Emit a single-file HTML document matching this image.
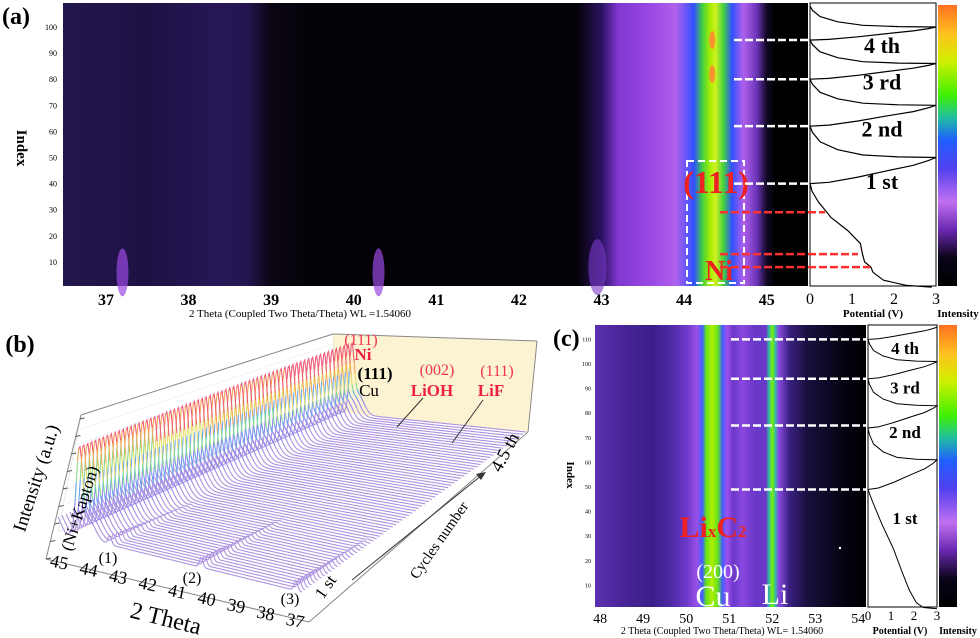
<!DOCTYPE html>
<html><head><meta charset="utf-8">
<style>
html,body{margin:0;padding:0;background:#fff}
svg{display:block;font-family:"Liberation Serif",serif}
</style></head>
<body>
<svg id="fig" width="980" height="638" viewBox="0 0 980 638" xmlns="http://www.w3.org/2000/svg">
<defs>
<linearGradient id="cbar" x1="0" y1="1" x2="0" y2="0">
<stop offset="0" stop-color="#000"/><stop offset="0.1" stop-color="#0a0418"/><stop offset="0.2" stop-color="#6a28b0"/><stop offset="0.3" stop-color="#c070f0"/><stop offset="0.42" stop-color="#5040f0"/><stop offset="0.52" stop-color="#2060ff"/><stop offset="0.6" stop-color="#20c0a0"/><stop offset="0.68" stop-color="#40f000"/><stop offset="0.8" stop-color="#d0f000"/><stop offset="0.9" stop-color="#ffc020"/><stop offset="1" stop-color="#ff7020"/>
</linearGradient>
</defs>
<g id="panelA"></g>
<g id="panelB"></g>
<g id="panelC"></g>
</svg>
<script>
// ---------- data ----------
const aTicks = [37,38,39,40,41,42,43,44,45];
const aIdxTicks = [10,20,30,40,50,60,70,80,90,100];
const aBandTheta = [36.5,37.5,38.3,38.7,39.0,39.5,42.7,43.0,43.2,43.6,43.9,44.12,44.22,44.32,44.38,44.48,44.58,44.72,44.88,45.0,45.1];
const aBandColor = ["#22164e","#1e1244","#261656","#241552","#0b0614","#040206","#040206","#2a1260","#8038d0","#9a48e4","#b060ec","#3050ff","#40d040","#a8f000","#d0f020","#40d040","#3050ff","#b060ec","#6a34b8","#120826","#000000"];
const aSpotTheta = [37.2,40.3];
const aPotTicks = [0,1,2,3];
const aCycIdx = [40,50,62,70,80,86,95,100,108];
const aCycV = [0,3,0,3,0,3,0,3,0];
const a1stIdx = [0.3,1,3,6,8,10,13,17,22,27,33,37,40];
const a1stV = [2.9,2.3,1.75,1.5,1.45,1.3,1.25,1.2,0.9,0.5,0.2,0.05,0];
const aWhiteIdx = [95,80,62,40];
const aRedIdx = [29,13,8];
const aCycLabels = ["4 th","3 rd","2 nd","1 st"];
const aCycLabelIdx = [90,76,58,38];

const cTicks = [48,49,50,51,52,53,54];
const cIdxTicks = [10,20,30,40,50,60,70,80,90,100,110];
const cBandTheta = [47.85,48.5,49.2,49.6,50.0,50.25,50.38,50.46,50.6,50.74,50.84,50.95,51.1,51.3,51.6,51.85,51.93,52.0,52.07,52.15,52.4,52.8,53.5,54.15];
const cBandColor = ["#5a30b0","#4a2598","#3a1e88","#4a28a0","#6a38c8","#9a50e8","#4060ff","#60e020","#b0f000","#60e020","#4060ff","#a050f0","#6a38c8","#8a48e0","#6a38c8","#6a38c8","#30c0a0","#80f000","#30c0a0","#8a48e0","#3a2080","#1a1040","#080418","#000000"];
const cCycIdx = [49,61,74,83,94,101,110,115];
const cCycV = [0,3,0,3,0,3,0,3];
const c1stIdx = [1,3,8,15,25,35,44,49];
const c1stV = [2.4,2.1,1.8,1.5,1.1,0.6,0.2,0];
const cWhiteIdx = [110,94,75,49];
const cCycLabels = ["4 th","3 rd","2 nd","1 st"];
const cCycLabelIdx = [104,88,70,35];

const bThetaTicks = [45,44,43,42,41,40,39,38,37];
const bCycles = 70;
const bNiPeak = 44.3;
const bMinorPeaks = [43.3,40.3,37.2];
const bMinorHeights = [9,10,10];

const disV = [1,0.7,0.42,0.22,0.08,0.02,0];
const disF = [0,0.02,0.08,0.25,0.5,0.8,1];
const chgV = [0,0.15,0.38,0.62,0.82,0.94,1];
const chgF = [0,0.05,0.25,0.5,0.7,0.88,1];

// ---------- helpers ----------
const NS="http://www.w3.org/2000/svg";
function mk(tag, attrs, parent, text){
  const e=document.createElementNS(NS,tag);
  for(const k in attrs) e.setAttribute(k,attrs[k]);
  if(text!==undefined) e.textContent=text;
  parent.appendChild(e); return e;
}
const defs=document.querySelector('defs');

function heatmap(g, id, x0,x1,y0,y1, tMin,tMax, thetas, colors){
  const sx=t=>x0+(t-tMin)/(tMax-tMin)*(x1-x0);
  const lg=mk('linearGradient',{id:id,gradientUnits:'userSpaceOnUse',x1:x0,y1:0,x2:x1,y2:0},defs);
  thetas.forEach((t,i)=>{const o=Math.max(0,Math.min(1,(sx(t)-x0)/(x1-x0)));mk('stop',{offset:o,'stop-color':colors[i]},lg);});
  const r=mk('rect',{x:x0,y:y0,width:x1-x0,height:y1-y0,fill:'url(#'+id+')'},g);
  
  
  return sx;
}
function potPath(pv, pi, sx, sy){
  let d='';
  pi.forEach((ix,k)=>{d+=(k?'L':'M')+sx(pv[k]).toFixed(1)+' '+sy(ix).toFixed(1);});
  return d;
}
function cycPath(idx, v, sx, sy){
  let d='M'+sx(v[0]).toFixed(1)+' '+sy(idx[0]).toFixed(1);
  for(let k=1;k<idx.length;k++){
    const i1=idx[k-1],i2=idx[k],v1=v[k-1],v2=v[k];
    const down=v2<v1;
    const VV=down?disV:chgV, FF=down?disF:chgF;
    for(let j=1;j<VV.length;j++){
      const vv=down? v2+(v1-v2)*VV[j] : v1+(v2-v1)*VV[j];
      const ii=i1+(i2-i1)*FF[j];
      d+=' L'+sx(vv).toFixed(1)+' '+sy(ii).toFixed(1);
    }
  }
  return d;
}

// ---------- panel A ----------
(function(){
  const g=document.getElementById('panelA');
  const X0=63,X1=808,Y0=3,Y1=286, T0=36.48, T1=45.5;
  const sx=heatmap(g,'gA',X0,X1,Y0,Y1,T0,T1,aBandTheta,aBandColor);
  const sy=i=>288-2.61*i;
  aSpotTheta.forEach(t=>{
    const e=mk('ellipse',{cx:sx(t),cy:sy(6),rx:6,ry:24,fill:'#9a48e0',opacity:0.7},g);
    
    
  });
  mk('ellipse',{cx:sx(42.95),cy:sy(8),rx:9,ry:28,fill:'#7a38c8',opacity:0.6},g);
  [95,82].forEach(i=>{const e=mk('ellipse',{cx:sx(44.34),cy:sy(i),rx:3,ry:9,fill:'#ff8a30',opacity:0.9},g);
    });
  aTicks.forEach(t=>{
    const e=mk('text',{x:sx(t),y:305,'font-size':16,'text-anchor':'middle','font-weight':'bold'},g,String(t));
    
  });
  aIdxTicks.forEach(i=>{
    const e=mk('text',{x:57,y:sy(i)+3,'font-size':8,'text-anchor':'end'},g,String(i));
    
  });
  let t=mk('text',{x:0,y:0,'font-size':15,'font-weight':'bold',transform:'translate(17,148) rotate(90)','text-anchor':'middle'},g,'Index');
  
  t=mk('text',{x:300,y:317,'font-size':11,'text-anchor':'middle'},g,'2 Theta (Coupled Two Theta/Theta) WL =1.54060');
  
  t=mk('text',{x:2,y:24,'font-size':24,'font-weight':'bold'},g,'(a)');
  
  let r=mk('rect',{x:687,y:161,width:57,height:122,fill:'none',stroke:'#fff','stroke-width':2,'stroke-dasharray':'7 4'},g);
  
  t=mk('text',{x:716,y:193,'font-size':32,'font-weight':'bold',fill:'#ee2222','text-anchor':'middle'},g,'(111)');
  
  t=mk('text',{x:719,y:280,'font-size':28,'font-weight':'bold',fill:'#ee2222','text-anchor':'middle'},g,'Ni');
  
  const PX0=810,PX1=936;
  const px=v=>PX0+v/3*(PX1-PX0);
  r=mk('rect',{x:PX0,y:Y0,width:PX1-PX0,height:Y1-Y0,fill:'#fff',stroke:'#000','stroke-width':1},g);
  
  let p=mk('path',{d:potPath(a1stV,a1stIdx,px,sy),fill:'none',stroke:'#000','stroke-width':1.2},g);
  
  p=mk('path',{d:cycPath(aCycIdx,aCycV,px,sy),fill:'none',stroke:'#000','stroke-width':1.2},g);
  
  aCycLabels.forEach((s,k)=>{const e=mk('text',{x:882,y:sy(aCycLabelIdx[k]),'font-size':22,'font-weight':'bold','text-anchor':'middle'},g,s);
    });
  aWhiteIdx.forEach(i=>{const e=mk('line',{x1:734,y1:sy(i),x2:808,y2:sy(i),stroke:'#fff','stroke-width':2.5,'stroke-dasharray':'8 3'},g);
    });
  const redEnd=[825,858,870];
  aRedIdx.forEach((i,k)=>{const e=mk('line',{x1:720,y1:sy(i),x2:redEnd[k],y2:sy(i),stroke:'#ff3030','stroke-width':2.5,'stroke-dasharray':'8 3'},g);
    });
  aPotTicks.forEach(v=>{const e=mk('text',{x:px(v),y:304,'font-size':16,'text-anchor':'middle'},g,String(v));
    });
  t=mk('text',{x:873,y:317,'font-size':11,'font-weight':'bold','text-anchor':'middle'},g,'Potential (V)');
  
  r=mk('rect',{x:938,y:Y0+2,width:19,height:Y1-Y0-2,fill:'url(#cbar)'},g);
  
  t=mk('text',{x:958,y:317,'font-size':11,'font-weight':'bold','text-anchor':'middle'},g,'Intensity');
  
})();

// ---------- panel C ----------
(function(){
  const g=document.getElementById('panelC');
  const X0=595,X1=866,Y0=325,Y1=607,T0=47.88,T1=54.18;
  const sx=heatmap(g,'gC',X0,X1,Y0,Y1,T0,T1,cBandTheta,cBandColor);
  const sy=i=>610-2.46*i;
  cTicks.forEach(t=>{const e=mk('text',{x:sx(t),y:623,'font-size':14,'text-anchor':'middle'},g,String(t));
    });
  cIdxTicks.forEach(i=>{const e=mk('text',{x:591,y:sy(i)+2,'font-size':6,'text-anchor':'end'},g,String(i));
    });
  let t=mk('text',{x:0,y:0,'font-size':11,'font-weight':'bold',transform:'translate(567,475) rotate(90)','text-anchor':'middle'},g,'Index');
  
  t=mk('text',{x:722,y:634,'font-size':10,'text-anchor':'middle'},g,'2 Theta (Coupled Two Theta/Theta) WL= 1.54060');
  
  t=mk('text',{x:553,y:346,'font-size':24,'font-weight':'bold'},g,'(c)');
  
  t=mk('text',{x:713,y:537,'font-size':30,'font-weight':'bold',fill:'#ee2222','text-anchor':'middle'},g);
  
  mk('tspan',{},t,'Li');mk('tspan',{'font-size':17},t,'x');mk('tspan',{},t,'C');mk('tspan',{'font-size':17},t,'2');
  t=mk('text',{x:718,y:578,'font-size':20,fill:'#fff','text-anchor':'middle'},g,'(200)');
  
  t=mk('text',{x:713,y:606,'font-size':30,fill:'#fff','text-anchor':'middle'},g,'Cu');
  
  t=mk('text',{x:775,y:604,'font-size':30,fill:'#fff','text-anchor':'middle'},g,'Li');
  
  mk('circle',{cx:840,cy:548,r:1.2,fill:'#fff'},g);
  cWhiteIdx.forEach(i=>{const e=mk('line',{x1:731,y1:sy(i),x2:866,y2:sy(i),stroke:'#fff','stroke-width':2.5,'stroke-dasharray':'8 3'},g);
    });
  const PX0=868,PX1=937;
  const px=v=>PX0+v/3*(PX1-PX0);
  let r=mk('rect',{x:PX0,y:Y0,width:PX1-PX0,height:Y1-Y0,fill:'#fff',stroke:'#000','stroke-width':1},g);
  
  let p=mk('path',{d:potPath(c1stV,c1stIdx,px,sy)+' M'+px(2.4)+' '+sy(1)+' L'+px(3)+' '+sy(0.5),fill:'none',stroke:'#000','stroke-width':1},g);
  
  p=mk('path',{d:cycPath(cCycIdx,cCycV,px,sy),fill:'none',stroke:'#000','stroke-width':1},g);
  
  cCycLabels.forEach((s,k)=>{const e=mk('text',{x:905,y:sy(cCycLabelIdx[k]),'font-size':17,'font-weight':'bold','text-anchor':'middle'},g,s);
    });
  [0,1,2,3].forEach(v=>{const e=mk('text',{x:px(v),y:620,'font-size':13,'text-anchor':'middle'},g,String(v));
    });
  t=mk('text',{x:900,y:634,'font-size':10,'font-weight':'bold','text-anchor':'middle'},g,'Potential (V)');
  
  r=mk('rect',{x:939,y:Y0,width:18,height:Y1-Y0,fill:'url(#cbar)'},g);
  
  t=mk('text',{x:958,y:634,'font-size':10,'font-weight':'bold','text-anchor':'middle'},g,'Intensity');
  
})();

// ---------- panel B (waterfall) ----------
(function(){
  const g=document.getElementById('panelB');
  const FL=[58,532],FR=[302,592],BL=[335,412],BR=[526,432];
  function P(t,c,h){
    const u=(45-t)/8;
    const fx=FL[0]+(FR[0]-FL[0])*u, fy=FL[1]+(FR[1]-FL[1])*u;
    const bx=BL[0]+(BR[0]-BL[0])*u, by=BL[1]+(BR[1]-BL[1])*u;
    return [fx+(bx-fx)*c, fy+(by-fy)*c - h*(1-0.35*c)];
  }
  const binTh=[16,30,44,58,72,86,1e9];
  const binCol=['#ad92e0','#8f86ee','#66a8e8','#86dc8c','#e6dc6a','#f4a656','#f05a78'];
  let e=mk('polygon',{points:'333,334 537,341 528,432 335,412',fill:'#fcf3d2'},g);
  
  e=mk('polygon',{points:'81,415 333,334 335,412 58,532',fill:'none',stroke:'#ddd','stroke-width':0.6},g);
  for(let k=1;k<8;k++){mk('line',{x1:81-k*3,y1:415+k*15,x2:333+k*0.3,y2:334+k*10,stroke:'#e4e4e4','stroke-width':0.5},g);}
  const edges=[[46,559,81,415],[81,415,333,334],[333,334,537,341],[537,341,528,432],[46,559,309,622],[309,622,528,432]];
  edges.forEach(a=>{const l=mk('line',{x1:a[0],y1:a[1],x2:a[2],y2:a[3],stroke:'#888','stroke-width':1},g);
    });
  for(let k=0;k<9;k++){const y=559-k*17.5,x=46+k*4.2;mk('line',{x1:x,y1:y,x2:x+5,y2:y-1,stroke:'#555'},g);}
  for(let n=bCycles-1;n>=0;n--){
    const c=n/(bCycles-1);
    const segs=[];
    let cur=null;
    for(let t=45;t>=37-1e-6;t-=0.04){
      let h=Math.exp(-Math.pow((t-bNiPeak)/0.14,2))*(78+12*c)
        +Math.exp(-Math.pow((t-44.05)/0.35,2))*(22+10*c)
        +Math.max(0,(t-44.75))*60;
      if(c<0.35) bMinorPeaks.forEach((m,k)=>{h+=Math.exp(-Math.pow((t-m)/0.08,2))*bMinorHeights[k]*(1-c/0.35);});
      let b=0; while(h>binTh[b]) b++;
      const q=P(t,c,h), s=q[0].toFixed(1)+','+q[1].toFixed(1);
      if(!cur || cur.bin!==b){
        if(cur) cur.pts.push(s);
        cur={bin:b,pts:[s]};
        segs.push(cur);
      } else cur.pts.push(s);
    }
    segs.forEach(sg=>{
      const pl=mk('polyline',{points:sg.pts.join(' '),fill:'none',stroke:binCol[sg.bin],'stroke-width':1.1},g);
      
      
    });
  }
  bThetaTicks.forEach((t,k)=>{
    const x=58+k*29.5, y=568+k*7.3;
    const tx=mk('text',{x:0,y:0,'font-size':18,'text-anchor':'middle',transform:'translate('+x+','+y+') rotate(12)'},g,String(t));
    
    
  });
  const T=(s,x,y,size,rot,attrs,name)=>{const o=Object.assign({x:0,y:0,'font-size':size,'text-anchor':'middle',transform:'translate('+x+','+y+') rotate('+rot+')'},attrs||{});
    const tx=mk('text',o,g,s);return tx;};
  T('(b)',20,352,24,0,{'font-weight':'bold'},'panel-label');
  T('2 Theta',164,626,24,14,{},'x-axis-title');
  T('Intensity (a.u.)',42,480,19,-72,{},'y-axis-title');
  T('(Ni+Kapton)',85,510,17,-72,{},'annotation-ni-kapton');
  T('(1)',108,563,16,0,{},'peak-label-1');
  T('(2)',192,583,16,0,{},'peak-label-2');
  T('(3)',290,604,16,0,{},'peak-label-3');
  T('1 st',330,590,17,-55,{},'cycle-start-label');
  T('Cycles number',443,543,15,-55,{},'cycle-axis-title');
  T('4.5 th',510,455,18,-62,{},'cycle-end-label');
  let l=mk('line',{x1:352,y1:580,x2:482,y2:475,stroke:'#333','stroke-width':1},g);
  
  mk('polygon',{points:'486,472 476,474 481,480',fill:'#333'},g);
  T('(111)',361,345,16,0,{fill:'#ee3355'},'peak-label-ni-111');
  T('Ni',363,360,17,0,{fill:'#ee2244','font-weight':'bold'},'peak-label-ni');
  T('(111)',375,379,17,0,{'font-weight':'bold'},'peak-label-cu-111');
  T('Cu',369,396,17,0,{},'peak-label-cu');
  T('(002)',437,375,16,0,{fill:'#ee3355'},'peak-label-002');
  T('LiOH',432,396,17,0,{fill:'#ee2244','font-weight':'bold'},'peak-label-lioh');
  T('(111)',497,376,16,0,{fill:'#ee3355'},'peak-label-lif-111');
  T('LiF',491,396,17,0,{fill:'#ee2244','font-weight':'bold'},'peak-label-lif');
  l=mk('line',{x1:423,y1:398,x2:397,y2:427,stroke:'#333'},g);
  
  l=mk('line',{x1:483,y1:400,x2:452,y2:443,stroke:'#333'},g);
  
})();
</script>
</body></html>
